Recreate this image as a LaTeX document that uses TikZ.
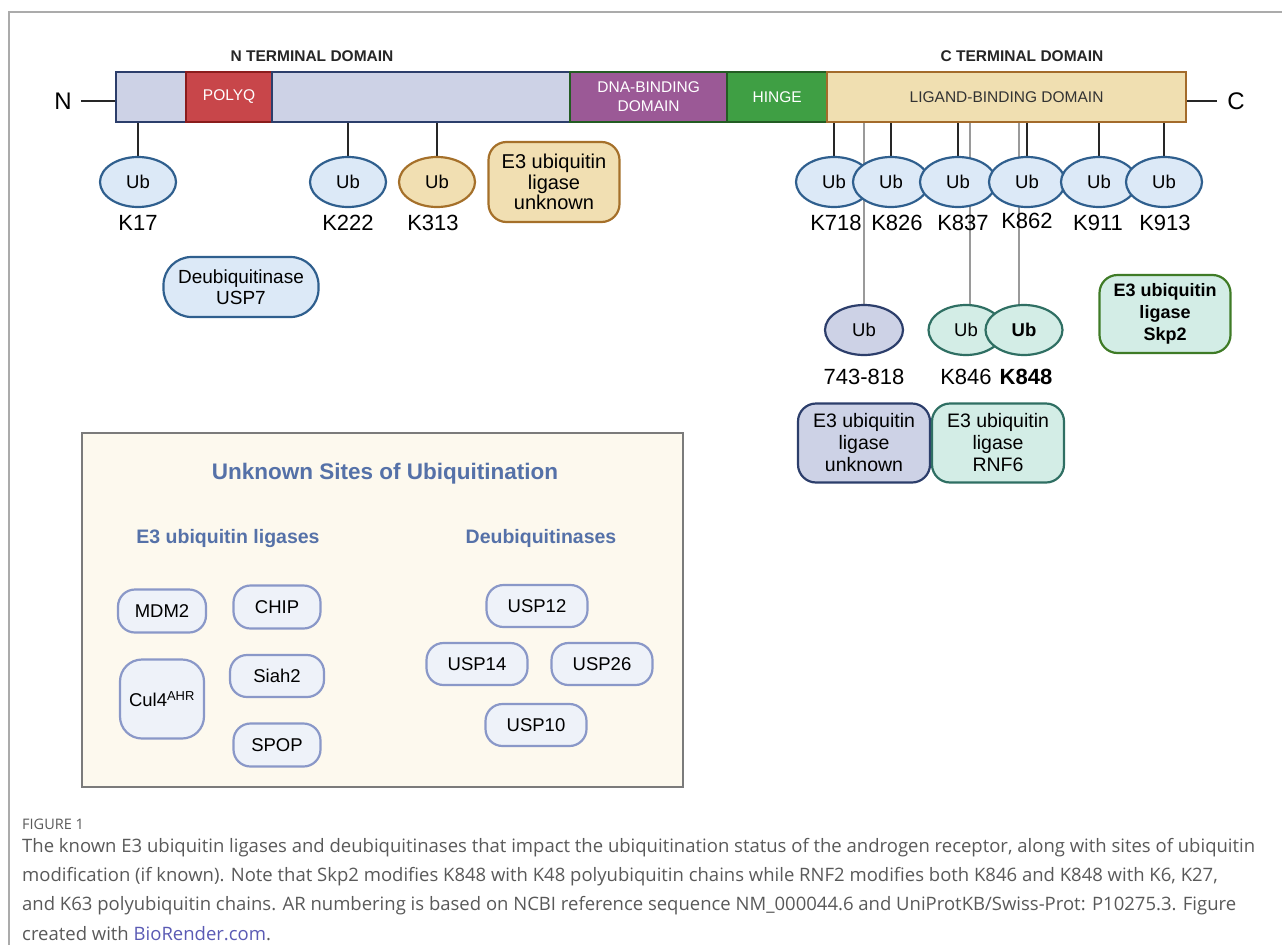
\documentclass[tikz,border=0pt]{standalone}
\usepackage{fontspec}
\setmainfont{Liberation Sans}
\newfontfamily\capfont{Open Sans}
\usetikzlibrary{shapes.geometric,backgrounds}
\definecolor{framegray}{HTML}{ABABAB}
\definecolor{lav}{HTML}{CDD2E6}
\definecolor{navy}{HTML}{2C3E6B}
\definecolor{polyF}{HTML}{C8464A}
\definecolor{polyD}{HTML}{8A1C1C}
\definecolor{dnaF}{HTML}{9B5996}
\definecolor{greenD}{HTML}{235C23}
\definecolor{hingeF}{HTML}{3F9F44}
\definecolor{lbdF}{HTML}{F0DFB1}
\definecolor{lbdD}{HTML}{A36B2B}
\definecolor{ubF}{HTML}{DCE9F7}
\definecolor{ubD}{HTML}{2F5F8E}
\definecolor{goldF}{HTML}{F1DFB2}
\definecolor{goldD}{HTML}{A5702A}
\definecolor{tealF}{HTML}{D3EDE6}
\definecolor{tealD}{HTML}{2F6F63}
\definecolor{skpD}{HTML}{3F7B26}
\definecolor{boxF}{HTML}{FDF9EE}
\definecolor{boxD}{HTML}{7B7B7B}
\definecolor{smF}{HTML}{EEF2F9}
\definecolor{smD}{HTML}{8A98C8}
\definecolor{titleC}{HTML}{5571A8}
\definecolor{capC}{HTML}{595959}
\definecolor{linkC}{HTML}{5A5AB4}
\definecolor{grayline}{HTML}{9A9A9A}
\begin{document}
\begin{tikzpicture}[x=1pt,y=-1pt,
  seg/.style={draw, line width=2.2pt, minimum height=50pt, inner sep=0pt, anchor=west, align=center, font=\fontsize{15.5}{19}\selectfont},
  ub/.style={ellipse, draw=ubD, fill=ubF, line width=2.2pt, minimum width=76pt, minimum height=50pt, inner sep=0pt, font=\fontsize{18.5}{20}\selectfont},
  klab/.style={font=\fontsize{22}{24}\selectfont, inner sep=0pt},
  rbox/.style={draw, line width=2.2pt, rounded corners=18pt, align=center, inner sep=0pt, minimum width=132pt, minimum height=79pt, font=\fontsize{19.5}{22}\selectfont},
  smallbox/.style={draw=smD, fill=smF, line width=2.2pt, rounded corners=17pt, minimum height=43pt, inner sep=0pt, font=\fontsize{18.5}{20}\selectfont},
  stem/.style={line width=2pt, black!85},
  gline/.style={line width=2pt, grayline},
  hdr/.style={font=\bfseries\fontsize{15.5}{18}\selectfont, text=black!85},
  sub/.style={font=\bfseries\fontsize{19.5}{22}\selectfont, text=titleC},
  capline/.style={anchor=west, inner sep=0pt, text=capC, font=\capfont\fontsize{18.5}{22}\selectfont},
]
\useasboundingbox (0,0) rectangle (1282,945);
\draw[framegray, line width=1.5pt] (9,945) -- (9,12) -- (1282,12);

% domain headers
\node[hdr] (ntd) at (312,56) {N TERMINAL DOMAIN};
\node[hdr] (ctd) at (1022,56) {C TERMINAL DOMAIN};

% bar
\node[seg, draw=navy, fill=lav, minimum width=70pt] (s1) at (115,97) {};
\node[seg, draw=polyD, fill=polyF, minimum width=86pt, text=white] (polyq) at (185,97) {POLYQ};
\node[seg, draw=navy, fill=lav, minimum width=298pt] (s3) at (271,97) {};
\node[seg, draw=greenD, fill=dnaF, minimum width=157pt, text=white] (dna) at (569,97) {DNA-BINDING\\DOMAIN};
\node[seg, draw=greenD, fill=hingeF, minimum width=100pt, text=white] (hinge) at (726,97) {HINGE};
\node[seg, draw=lbdD, fill=lbdF, minimum width=359pt, text=black!80] (lbd) at (826,97) {LIGAND-BINDING DOMAIN};

% N and C
\node[font=\fontsize{24}{26}\selectfont, inner sep=0pt] (Nl) at (63,101) {N};
\node[font=\fontsize{24}{26}\selectfont, inner sep=0pt] (Cl) at (1236,101) {C};
\draw[stem, shorten <=9pt] (Nl.east) -- (Nl.east -| s1.west);
\draw[stem, shorten >=10pt] (Cl.west -| lbd.east) -- (Cl.west);

% Ub, N-terminal
\node[ub] (u17) at (138,182) {Ub};
\node[ub] (u222) at (348,182) {Ub};
\node[ub, draw=goldD, fill=goldF] (u313) at (437,182) {Ub};
\node[rbox, draw=goldD, fill=goldF, minimum width=131pt, minimum height=80pt, font=\fontsize{20}{20.5}\selectfont] (e3gold) at (554,182) {E3 ubiquitin\\ligase\\unknown};
\node[klab] (k17) at (138,223) {K17};
\node[klab] (k222) at (348,223) {K222};
\node[klab] (k313) at (433,223) {K313};

% Ub, C-terminal
\node[ub] (u718) at (834,182) {Ub};
\node[ub] (u826) at (891,182) {Ub};
\node[ub] (u837) at (958,182) {Ub};
\node[ub] (u862) at (1027,182) {Ub};
\node[ub] (u911) at (1099,182) {Ub};
\node[ub] (u913) at (1164,182) {Ub};
\node[klab] (k718) at (836,223) {K718};
\node[klab] (k826) at (897,223) {K826};
\node[klab] (k837) at (963,223) {K837};
\node[klab] (k862) at (1027,221) {K862};
\node[klab] (k911) at (1098,223) {K911};
\node[klab] (k913) at (1165,223) {K913};

% lower Ub
\node[ub, draw=navy, fill=lav, minimum width=78pt] (u743) at (864,330) {Ub};
\node[ub, draw=tealD, fill=tealF, minimum width=75pt] (u846) at (966,330) {Ub};
\node[ub, draw=tealD, fill=tealF, minimum width=77pt, font=\bfseries\fontsize{18.5}{20}\selectfont] (u848) at (1024,330) {Ub};
\node[klab] (l743) at (864,377) {743-818};
\node[klab] (l846) at (966,377) {K846};
\node[klab, font=\bfseries\fontsize{22}{24}\selectfont] (l848) at (1026,377) {K848};

% ligase boxes right
\node[rbox, draw=navy, fill=lav] (e3unk) at (864,443) {E3 ubiquitin\\ligase\\unknown};
\node[rbox, draw=tealD, fill=tealF] (rnf6) at (998,443) {E3 ubiquitin\\ligase\\RNF6};
\node[rbox, draw=skpD, fill=tealF, minimum width=131pt, minimum height=78pt, font=\bfseries\fontsize{18}{22}\selectfont] (skp2) at (1165,314) {E3 ubiquitin\\ligase\\Skp2};

% USP7
\node[draw=ubD, fill=ubF, line width=2.2pt, rounded corners=28pt, minimum width=155pt, minimum height=60pt, inner sep=0pt, align=center, font=\fontsize{19}{21}\selectfont] (usp7) at (241,287) {Deubiquitinase\\USP7};

% stems and grey links
\begin{scope}[on background layer]
\draw[stem] (u17.center) -- (u17.center |- s1.south);
\draw[stem] (u222.center) -- (u222.center |- s3.south);
\draw[stem] (u313.center) -- (u313.center |- s3.south);
\draw[stem] (u718.center) -- (u718.center |- lbd.south);
\draw[stem] (u826.center) -- (u826.center |- lbd.south);
\draw[stem] (u837.center) -- (u837.center |- lbd.south);
\draw[stem] (u862.center) -- (u862.center |- lbd.south);
\draw[stem] (u911.center) -- (u911.center |- lbd.south);
\draw[stem] (u913.center) -- (u913.center |- lbd.south);
\draw[gline] (u743.center) -- (u743.center |- lbd.south);
\draw[gline] ([xshift=4pt]u846.center) -- ([xshift=4pt]u846.center |- lbd.south);
\draw[gline] ([xshift=-5pt]u848.center) -- ([xshift=-5pt]u848.center |- lbd.south);
\end{scope}

% unknown sites box
\node[draw=boxD, fill=boxF, line width=2pt, minimum width=601pt, minimum height=354pt, anchor=north west, inner sep=0pt] (ubox) at (81,432) {};
\node[font=\bfseries\fontsize{22.5}{25}\selectfont, text=titleC] (title) at (385,474) {Unknown Sites of Ubiquitination};
\node[sub] (e3h) at (228,538) {E3 ubiquitin ligases};
\node[sub] (dubh) at (541,538) {Deubiquitinases};

\node[smallbox, minimum width=88pt] (mdm2) at (162,611) {MDM2};
\node[smallbox, minimum width=87pt] (chip) at (277,607) {CHIP};
\node[smallbox, minimum width=84pt, minimum height=79pt, rounded corners=22pt] (cul4) at (162,699) {Cul4\textsuperscript{AHR}};
\node[smallbox, minimum width=94pt, minimum height=42pt] (siah2) at (277,676) {Siah2};
\node[smallbox, minimum width=87pt] (spop) at (277,745) {SPOP};
\node[smallbox, minimum width=101pt, minimum height=42pt] (usp12) at (537,606) {USP12};
\node[smallbox, minimum width=101pt, minimum height=42pt] (usp14) at (477,664) {USP14};
\node[smallbox, minimum width=101pt, minimum height=42pt] (usp26) at (602,664) {USP26};
\node[smallbox, minimum width=101pt, minimum height=42pt] (usp10) at (536,725) {USP10};

% caption
\node[capline, font=\capfont\fontsize{14.5}{16}\selectfont] (fig) at (22,824) {FIGURE 1};
\node[capline] (c1) at (22,848) {The known E3 ubiquitin ligases and deubiquitinases that impact the ubiquitination status of the androgen receptor, along with sites of ubiquitin};
\node[capline] (c2) at (22,877) {modification (if known). Note that Skp2 modifies K848 with K48 polyubiquitin chains while RNF2 modifies both K846 and K848 with K6, K27,};
\node[capline] (c3) at (22,906) {and K63 polyubiquitin chains. AR numbering is based on NCBI reference sequence NM\_000044.6 and UniProtKB/Swiss-Prot: P10275.3. Figure};
\node[capline] (c4) at (22,934) {created with \textcolor{linkC}{BioRender.com}.};
\end{tikzpicture}
\end{document}
